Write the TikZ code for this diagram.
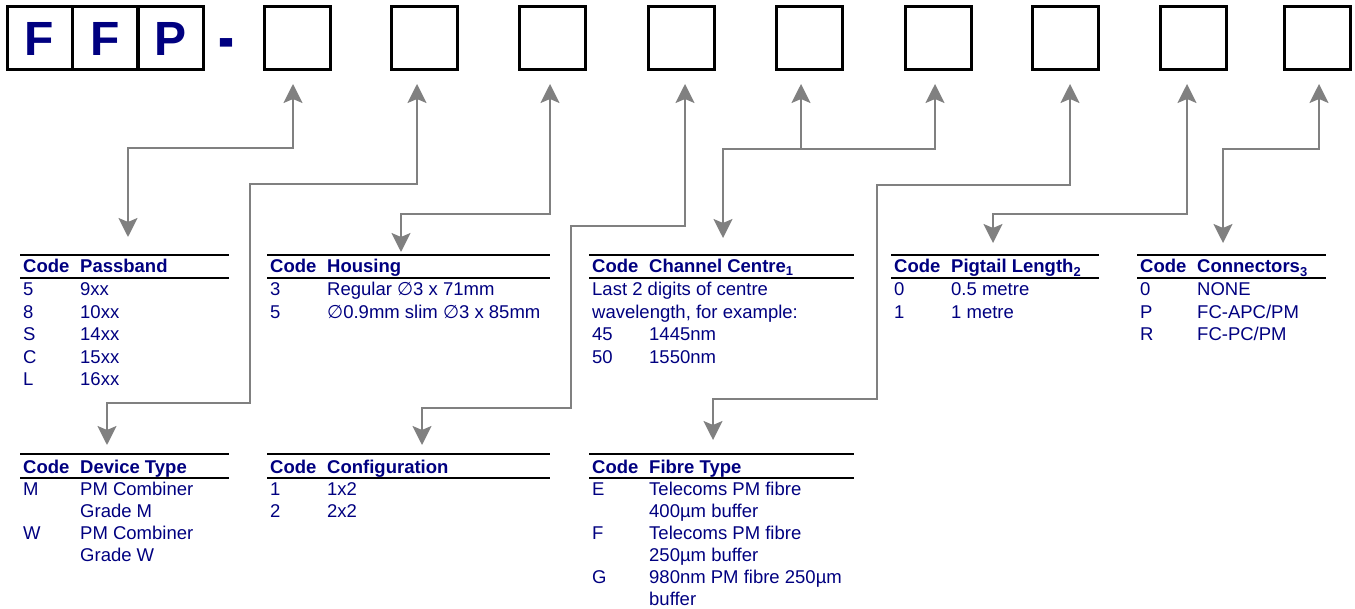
\documentclass[tikz,border=0pt]{standalone}
\usepackage{fontspec}
\setmainfont{Liberation Sans}
\newfontfamily\symfont{DejaVu Sans}
\usetikzlibrary{arrows.meta,calc}
\definecolor{codeblue}{RGB}{0,0,128}
\definecolor{linkgray}{RGB}{128,128,128}
\newcommand\diam{{\symfont ∅}}

\begin{document}
\begin{tikzpicture}[x=1pt,y=-1pt,
  cell/.style={draw,line width=3pt,minimum width=66pt,minimum height=63pt,inner sep=0pt},
  big/.style={text=codeblue,inner sep=0pt,font=\fontsize{48}{48}\selectfont\bfseries},
  txt/.style={anchor=base west,inner sep=0pt,text=codeblue,font=\fontsize{18.5}{21}\selectfont},
  hdr/.style={txt,font=\fontsize{18.5}{21}\selectfont\bfseries},
  rule/.style={line width=2.2pt},
  link/.style={draw=linkgray,line width=2pt,>={Stealth[length=19pt,width=19pt,inset=4pt]}}]
\useasboundingbox (0,0) rectangle (1355,609);

% part number boxes
\node[cell,minimum width=65pt,big] (f1) at (39.5,38.5) {F};
\node[cell,minimum width=65pt,big] (f2) at (105,38.5) {F};
\node[cell,minimum width=65pt,big] (f3) at (170.5,38.5) {P};
\node[big,anchor=base] (dash) at (226,62) {\scalebox{1}[1.5]{-}};
\foreach \x [count=\i] in {297.5,424.5,552.5,681,809,938.5,1065.5,1193,1317.5}
  \node[cell] (b\i) at (\x,38.5) {};

% arrow ends
\foreach \x [count=\i] in {293,417,550,685,801,935,1070,1187,1319}
  \coordinate (u\i) at (\x,84);
\coordinate (dPass) at (128,237);
\coordinate (dDev) at (107,445);
\coordinate (dHou) at (401,252);
\coordinate (dCfg) at (422,445);
\coordinate (dCh) at (723,238);
\coordinate (j5) at (801,149);
\coordinate (dFib) at (713,440);
\coordinate (dPig) at (993,243);
\coordinate (dCon) at (1223,243);

% connectors
\draw[link,<->] (u1) |- (dPass |- 0,148) -- (dPass);
\draw[link,<->] (u2) |- (250,184) |- (107,403) -- (dDev);
\draw[link,<->] (u3) |- (401,214) -- (dHou);
\draw[link,<->] (u4) |- (571,226) |- (422,408) -- (dCfg);
\draw[link,<->] (u6) |- (723,149) -- (dCh);
\draw[link,<-] (u5) -- (j5);
\draw[link,<->] (u7) |- (877,185) |- (713,399) -- (dFib);
\draw[link,<->] (u8) |- (993,214) -- (dPig);
\draw[link,<->] (u9) |- (1223,149) -- (dCon);

% Passband
\draw[rule] (20,255) -- (229,255) (20,278) -- (229,278);
\node[hdr] (pc) at (23,273) {Code};
\node[hdr] (ph) at (80,273) {Passband};
\foreach \c/\d [count=\i] in {5/9xx,8/10xx,S/14xx,C/15xx,L/16xx}{
  \node[txt] (pa\i) at (23,{296+22.5*(\i-1)}) {\c};
  \node[txt] (pb\i) at (80,{296+22.5*(\i-1)}) {\d};
}

% Housing
\draw[rule] (267,255) -- (550,255) (267,278) -- (550,278);
\node[hdr] (hc) at (270,273) {Code};
\node[hdr] (hh) at (327,273) {Housing};
\node[txt] (ha1) at (270,296) {3};
\node[txt] (hb1) at (327,296) {Regular \diam3 x 71mm};
\node[txt] (ha2) at (270,318.5) {5};
\node[txt] (hb2) at (327,318.5) {\diam0.9mm slim \diam3 x 85mm};

% Channel centre
\draw[rule] (589,255) -- (854,255) (589,278) -- (854,278);
\node[hdr] (cc) at (592,273) {Code};
\node[hdr] (ch) at (649,273) {Channel Centre\textsubscript{1}};
\node[txt] (cn1) at (592,296) {Last 2 digits of centre};
\node[txt] (cn2) at (592,318.5) {wavelength, for example:};
\node[txt] (ca1) at (592,341) {45};
\node[txt] (cb1) at (649,341) {1445nm};
\node[txt] (ca2) at (592,363.5) {50};
\node[txt] (cb2) at (649,363.5) {1550nm};

% Pigtail length
\draw[rule] (891,255) -- (1099,255) (891,278) -- (1099,278);
\node[hdr] (gc) at (894,273) {Code};
\node[hdr] (gh) at (951,273) {Pigtail Length\textsubscript{2}};
\node[txt] (ga1) at (894,296) {0};
\node[txt] (gb1) at (951,296) {0.5 metre};
\node[txt] (ga2) at (894,318.5) {1};
\node[txt] (gb2) at (951,318.5) {1 metre};

% Connectors
\draw[rule] (1137,255) -- (1326,255) (1137,278) -- (1326,278);
\node[hdr] (kc) at (1140,273) {Code};
\node[hdr] (kh) at (1197,273) {Connectors\textsubscript{3}};
\node[txt] (ka1) at (1140,296) {0};
\node[txt] (kb1) at (1197,296) {NONE};
\node[txt] (ka2) at (1140,318.5) {P};
\node[txt] (kb2) at (1197,318.5) {FC-APC/PM};
\node[txt] (ka3) at (1140,341) {R};
\node[txt] (kb3) at (1197,341) {FC-PC/PM};

% Device type
\draw[rule] (20,454) -- (229,454) (20,478) -- (229,478);
\node[hdr] (dc) at (23,473) {Code};
\node[hdr] (dh) at (80,473) {Device Type};
\node[txt] (da1) at (23,495) {M};
\node[txt] (db1) at (80,495) {PM Combiner};
\node[txt] (db2) at (80,517) {Grade M};
\node[txt] (da3) at (23,539) {W};
\node[txt] (db3) at (80,539) {PM Combiner};
\node[txt] (db4) at (80,561) {Grade W};

% Configuration
\draw[rule] (267,454) -- (550,454) (267,478) -- (550,478);
\node[hdr] (oc) at (270,473) {Code};
\node[hdr] (oh) at (327,473) {Configuration};
\node[txt] (oa1) at (270,495) {1};
\node[txt] (ob1) at (327,495) {1x2};
\node[txt] (oa2) at (270,517) {2};
\node[txt] (ob2) at (327,517) {2x2};

% Fibre type
\draw[rule] (589,454) -- (854,454) (589,478) -- (854,478);
\node[hdr] (tc) at (592,473) {Code};
\node[hdr] (th) at (649,473) {Fibre Type};
\node[txt] (ta1) at (592,495) {E};
\node[txt] (tb1) at (649,495) {Telecoms PM fibre};
\node[txt] (tb2) at (649,517) {400µm buffer};
\node[txt] (ta3) at (592,539) {F};
\node[txt] (tb3) at (649,539) {Telecoms PM fibre};
\node[txt] (tb4) at (649,561) {250µm buffer};
\node[txt] (ta5) at (592,583) {G};
\node[txt] (tb5) at (649,583) {980nm PM fibre 250µm};
\node[txt] (tb6) at (649,605) {buffer};
\end{tikzpicture}
\end{document}
